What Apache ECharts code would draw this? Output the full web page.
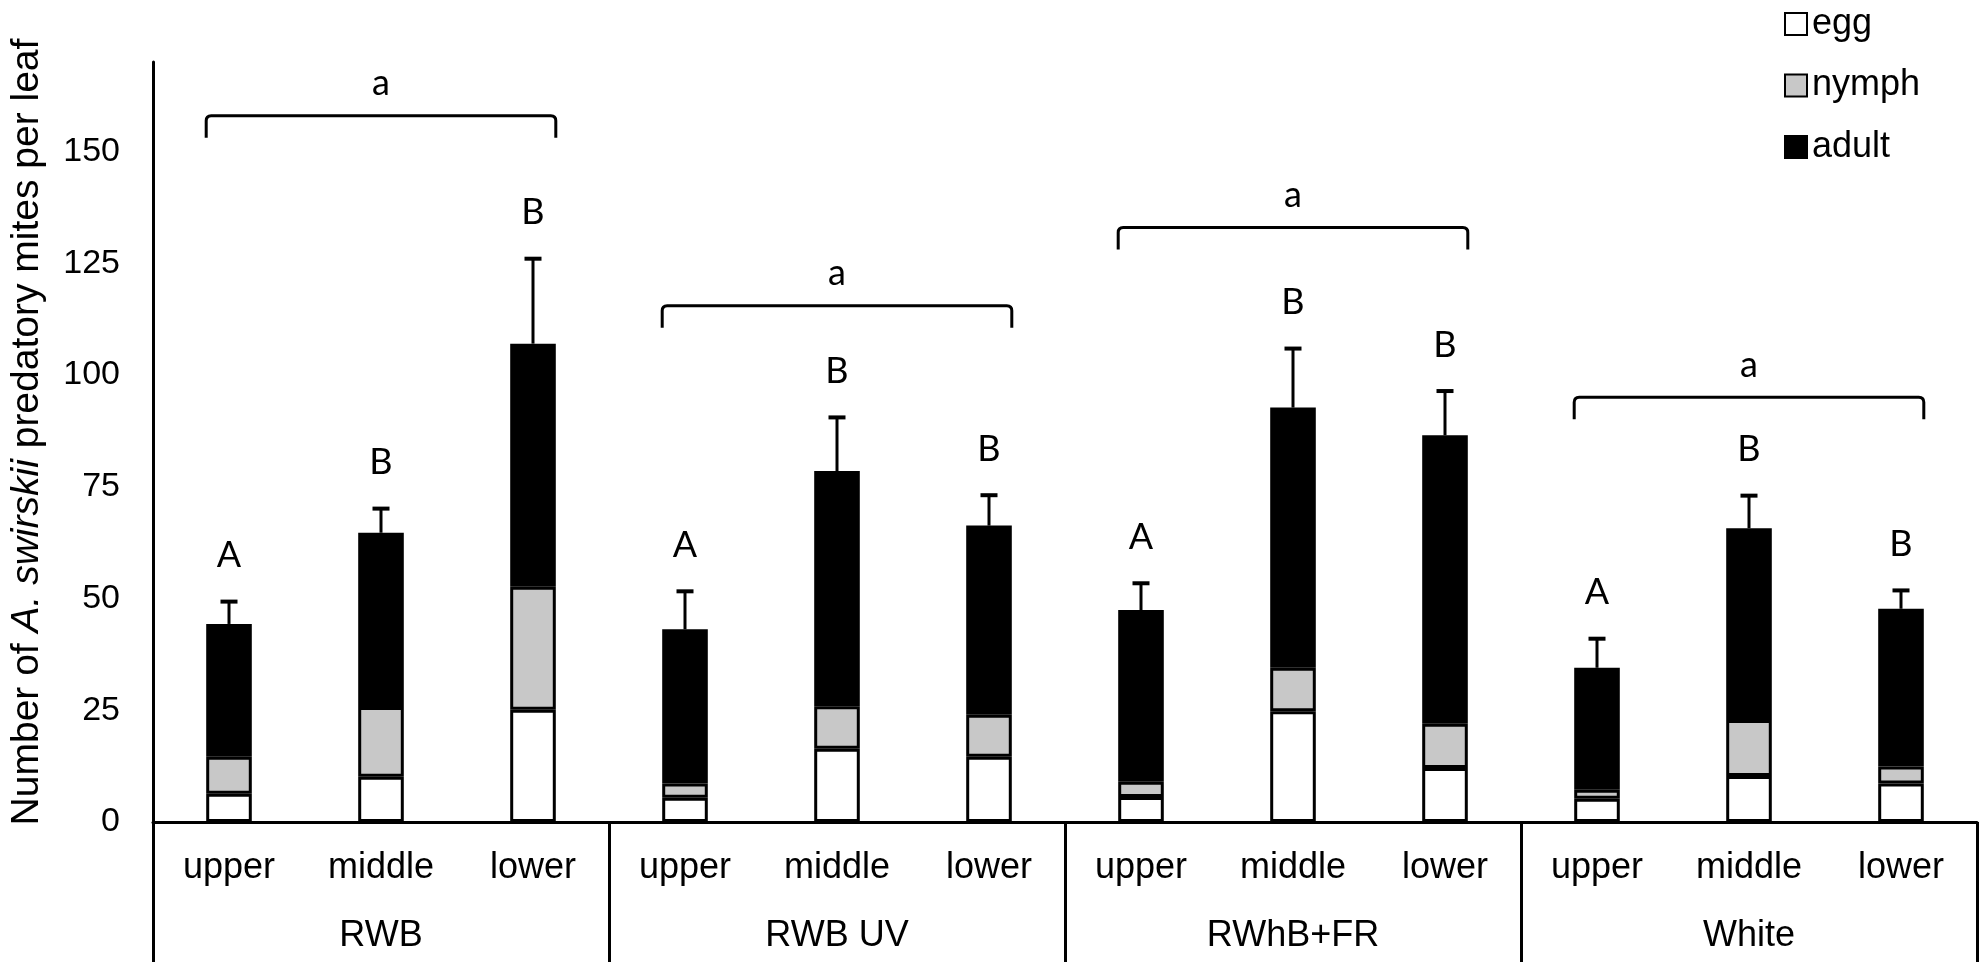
<!DOCTYPE html>
<html>
<head>
<meta charset="utf-8">
<script src="https://cdn.jsdelivr.net/npm/echarts@6/dist/echarts.min.js"></script>
<style>
  html, body { margin: 0; padding: 0; background: #fff; }
  #main { width: 1984px; height: 966px; }
</style>
</head>
<body>
<div id="main"></div>
<script>
// positions on the leaf, repeated for each light treatment
var positions = ['upper', 'middle', 'lower'];
var treatments = ['RWB', 'RWB UV', 'RWhB+FR', 'White'];

// mites per leaf (means), in order RWB, RWB UV, RWhB+FR, White x upper/middle/lower
var eggs   = [6.3, 10.1, 25.1,   5.4, 16.4, 14.6,   5.6, 24.8, 12.1,   5.2, 10.3, 8.6];
var nymphs = [8.3, 15.6, 27.5,   3.2,  9.5,  9.4,   3.4,  9.7,  9.9,   2.0, 12.5, 3.8];
var adults = [29.7, 39.0, 54.4,  34.5, 52.6, 42.3,  38.4, 58.2, 64.5,  27.3, 42.9, 35.3];
// standard error of the total
var errors = [5.0, 5.4, 19.0,    8.5, 12.0, 6.8,    6.0, 13.2, 9.9,    6.5, 7.3, 4.1];

// letters of significance
var posLetters = ['A', 'B', 'B',  'A', 'B', 'B',  'A', 'B', 'B',  'A', 'B', 'B'];
var groupLetters = ['a', 'a', 'a', 'a'];
var bracketLevels = [158, 115.5, 133, 95];

var yTicks = { min: 0, max: 170, interval: 25 };

var FONT = 'Liberation Sans, Arial, sans-serif';
var LETTER_FONT = 'Lato, Open Sans, sans-serif';
var BAR_FRAC = 0.30;

new function() {

    var categories = [];
    treatments.forEach(function() {
        positions.forEach(function(p) { categories.push(p); });
    });

    var totals = eggs.map(function(e, i) {
        return e + nymphs[i] + adults[i];
    });

    var errData = totals.map(function(t, i) {
        return [i, t, t + errors[i], posLetters[i]];
    });

    var bracketData = bracketLevels.map(function(v, g) {
        return [g * 3, v, g * 3 + 2, groupLetters[g]];
    });

    var myChart = echarts.init(document.getElementById('main'));

    var option = {
        animation: false,
        backgroundColor: '#fff',
        grid: { left: 148, right: 7, top: 62, bottom: 144 },
        legend: {
            data: ['egg', 'nymph', 'adult'],
            orient: 'vertical',
            left: 1779,
            top: 1,
            itemWidth: 22,
            itemHeight: 22,
            itemGap: 25.5,
            icon: 'rect',
            textStyle: { fontFamily: FONT, fontSize: 36, color: '#000' }
        },
        xAxis: [{
            type: 'category',
            data: categories,
            axisLine: { lineStyle: { color: '#000', width: 3 } },
            axisTick: { show: false },
            axisLabel: { interval: 0, fontFamily: FONT, fontSize: 36, color: '#000', margin: 28 }
        }, {
            type: 'category',
            data: treatments,
            position: 'bottom',
            axisLine: { show: false },
            axisTick: { show: true, interval: 0, length: 140, lineStyle: { color: '#000', width: 3 } },
            axisLabel: { interval: 0, fontFamily: FONT, fontSize: 36, color: '#000', margin: 96 }
        }],
        yAxis: {
            type: 'value',
            min: yTicks.min,
            max: yTicks.max,
            interval: yTicks.interval,
            axisLine: { show: true, lineStyle: { color: '#000', width: 3 } },
            axisTick: { show: false },
            splitLine: { show: false },
            axisLabel: {
                fontFamily: FONT, fontSize: 34, color: '#000', margin: 33,
                formatter: function(v) { return v % 25 === 0 ? v : ''; }
            },
            name: '{n|Number of }{i|A. swirskii}{n| predatory mites per leaf}',
            nameLocation: 'middle',
            nameGap: 106,
            nameTextStyle: {
                padding: [0, 0, 0, 20],
                rich: {
                    n: { fontFamily: FONT, fontSize: 39, color: '#000' },
                    i: { fontFamily: FONT, fontSize: 39, color: '#000', fontStyle: 'italic' }
                }
            }
        },
        series: [{
            name: 'egg',
            type: 'bar',
            stack: 'mites',
            barWidth: (BAR_FRAC * 100) + '%',
            data: eggs,
            itemStyle: { color: '#fff', borderColor: '#000', borderWidth: 3 }
        }, {
            name: 'nymph',
            type: 'bar',
            stack: 'mites',
            data: nymphs,
            itemStyle: { color: '#c8c8c8', borderColor: '#000', borderWidth: 3 }
        }, {
            name: 'adult',
            type: 'bar',
            stack: 'mites',
            data: adults,
            itemStyle: { color: '#000', borderColor: '#000', borderWidth: 3 }
        }, {
            // error bars (upper only) and position letters
            type: 'custom',
            data: errData,
            z: 5,
            renderItem: function(params, api) {
                var i = api.value(0);
                var p0 = api.coord([i, api.value(1)]);
                var p1 = api.coord([i, api.value(2)]);
                var half = 8.5;
                return {
                    type: 'group',
                    children: [{
                        type: 'line',
                        shape: { x1: p0[0], y1: p0[1], x2: p1[0], y2: p1[1] },
                        style: { stroke: '#000', lineWidth: 3 }
                    }, {
                        type: 'line',
                        shape: { x1: p1[0] - half, y1: p1[1], x2: p1[0] + half, y2: p1[1] },
                        style: { stroke: '#000', lineWidth: 4 }
                    }, {
                        type: 'text',
                        x: p1[0],
                        y: p1[1] - 46,
                        style: {
                            text: errData[params.dataIndex][3],
                            font: '36px ' + LETTER_FONT,
                            fill: '#000',
                            align: 'center',
                            verticalAlign: 'middle'
                        }
                    }]
                };
            }
        }, {
            // brackets over each treatment
            type: 'custom',
            data: bracketData,
            z: 5,
            renderItem: function(params, api) {
                var bw = api.size([1, 0])[0] * BAR_FRAC / 2;
                var l = api.coord([api.value(0), api.value(1)]);
                var r = api.coord([api.value(2), api.value(1)]);
                var x1 = l[0] - bw, x2 = r[0] + bw, y = l[1];
                var d = 22, c = 5;
                var path = 'M' + x1 + ' ' + (y + d) + ' L' + x1 + ' ' + (y + c) +
                    ' Q' + x1 + ' ' + y + ' ' + (x1 + c) + ' ' + y +
                    ' L' + (x2 - c) + ' ' + y +
                    ' Q' + x2 + ' ' + y + ' ' + x2 + ' ' + (y + c) +
                    ' L' + x2 + ' ' + (y + d);
                return {
                    type: 'group',
                    children: [{
                        type: 'path',
                        shape: { pathData: path },
                        style: { stroke: '#000', lineWidth: 3, fill: null }
                    }, {
                        type: 'text',
                        x: (x1 + x2) / 2,
                        y: y - 32,
                        style: {
                            text: bracketData[params.dataIndex][3],
                            font: '36px ' + LETTER_FONT,
                            fill: '#000',
                            align: 'center',
                            verticalAlign: 'middle'
                        }
                    }]
                };
            }
        }]
    };

    myChart.setOption(option);
}
</script>
</body>
</html>
